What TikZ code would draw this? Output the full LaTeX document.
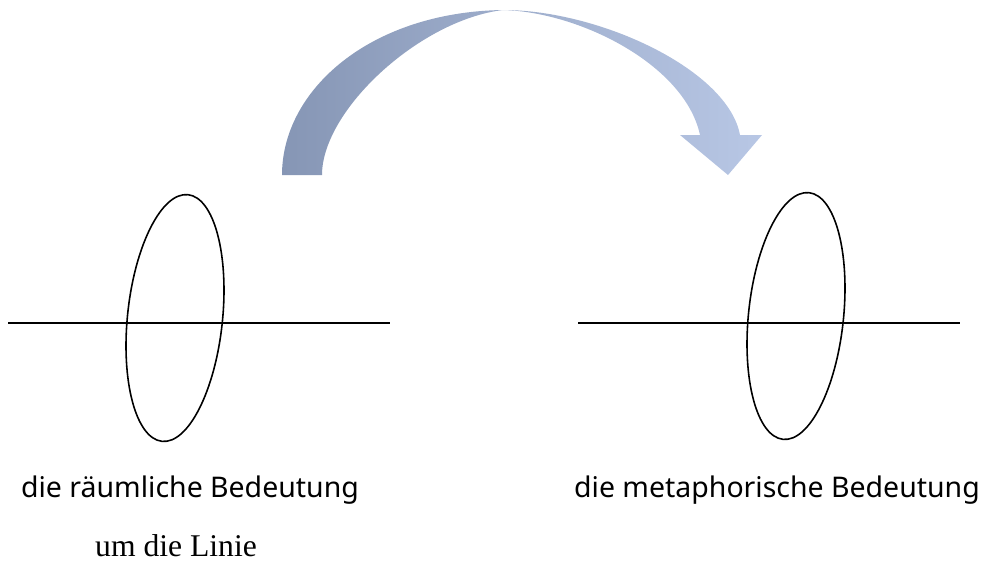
\documentclass[tikz,border=0pt]{standalone}
\usepackage{fontspec}
\setmainfont{Liberation Serif}
\newfontfamily\labelfont{Noto Sans}
\usepackage{tikz}
\usetikzlibrary{positioning}
\definecolor{arcdark}{RGB}{134,150,181}
\definecolor{arclight}{RGB}{184,199,229}
\tikzset{
  axis/.style={draw, line width=0.6pt},
  loop/.style={draw, line width=0.9pt, rotate around={-6:#1}},
  meaning/.style={font=\labelfont\fontsize{16.2}{20}\selectfont, inner sep=0pt},
  caption/.style={font=\fontsize{18}{22}\selectfont, inner sep=0pt}
  }

\begin{document}
\begin{tikzpicture}[x=0.02cm, y=-0.02cm]
	% Frame
	\useasboundingbox (0,0) rectangle (987,562);

	% Lines and loops
	\coordinate (lineL1) at (8,323);
	\coordinate (lineL2) at (390,323);
	\coordinate (lineR1) at (578,323);
	\coordinate (lineR2) at (960,323);
	\coordinate (loopL) at (175,318);
	\coordinate (loopR) at (796,316);
	\draw [axis] (lineL1) -- (lineL2);
	\draw [axis] (lineR1) -- (lineR2);
	\draw [loop=(loopL)] (loopL) ellipse [x radius=47.5, y radius=124];
	\draw [loop=(loopR)] (loopR) ellipse [x radius=47.5, y radius=124];

	% Arrow
	\shade [left color=arcdark, right color=arclight]
	  (282,175) .. controls (282,90) and (370,12) .. (503,10)
	  .. controls (600,10) and (728,70) .. (740,135)
	  -- (762,135) -- (728,175) -- (680,135) -- (700,135)
	  .. controls (685,65) and (580,12) .. (503,10)
	  .. controls (420,20) and (322,110) .. (322,175) -- cycle;

	% Labels
	\node [meaning] (spatial) at (190,490) {die räumliche Bedeutung};
	\node [meaning] (metaphor) at (777,490) {die metaphorische Bedeutung};
	\node [caption] (around) at (176,546) {um die Linie};
\end{tikzpicture}
\end{document}
